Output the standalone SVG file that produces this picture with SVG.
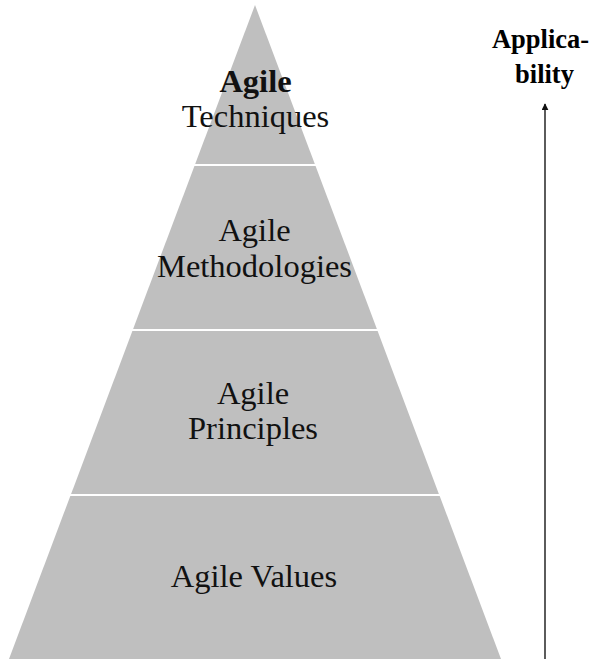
<svg xmlns="http://www.w3.org/2000/svg" width="598" height="659" viewBox="0 0 598 659">
<defs>
<style>
.layer{fill:#bfbfbf;stroke:none}
.lbl{font-family:"Liberation Serif","Times New Roman",serif;font-size:32.5px;fill:#111;text-anchor:middle}
.ttl{font-family:"Liberation Serif","Times New Roman",serif;font-size:26.5px;font-weight:bold;fill:#000;text-anchor:middle}
.conn{stroke:#333;stroke-width:1.6;fill:none}
</style>
<marker id="ah" viewBox="0 0 10 10" refX="9" refY="5" markerWidth="7" markerHeight="7" markerUnits="userSpaceOnUse" orient="auto">
<path d="M0,0 L10,5 L0,10 z" fill="#111"/>
</marker>
</defs>
<rect width="598" height="659" fill="#fff"/>
<g id="techniques">
<polygon class="layer" points="255,5 314.8,164 195.2,164"/>
<text class="lbl" x="255.5" y="92" font-weight="bold">Agile</text>
<text class="lbl" x="255.5" y="127">Techniques</text>
</g>
<g id="methodologies">
<polygon class="layer" points="194.45,166 315.55,166 376.9,329 133.1,329"/>
<text class="lbl" x="254.5" y="241">Agile</text>
<text class="lbl" x="254.5" y="277">Methodologies</text>
</g>
<g id="principles">
<polygon class="layer" points="132.4,331 377.6,331 438.9,494 71.1,494"/>
<text class="lbl" x="253" y="404">Agile</text>
<text class="lbl" x="253" y="439">Principles</text>
</g>
<g id="values">
<polygon class="layer" points="70.3,496 439.7,496 501,659 9,659"/>
<text class="lbl" x="254" y="587">Agile Values</text>
</g>
<g id="applicability">
<text class="ttl" x="540.5" y="48">Applica-</text>
<text class="ttl" x="544.5" y="83">bility</text>
</g>
<g id="connectors">
<line class="conn" x1="545" y1="659" x2="545" y2="104" marker-end="url(#ah)"/>
</g>
</svg>
